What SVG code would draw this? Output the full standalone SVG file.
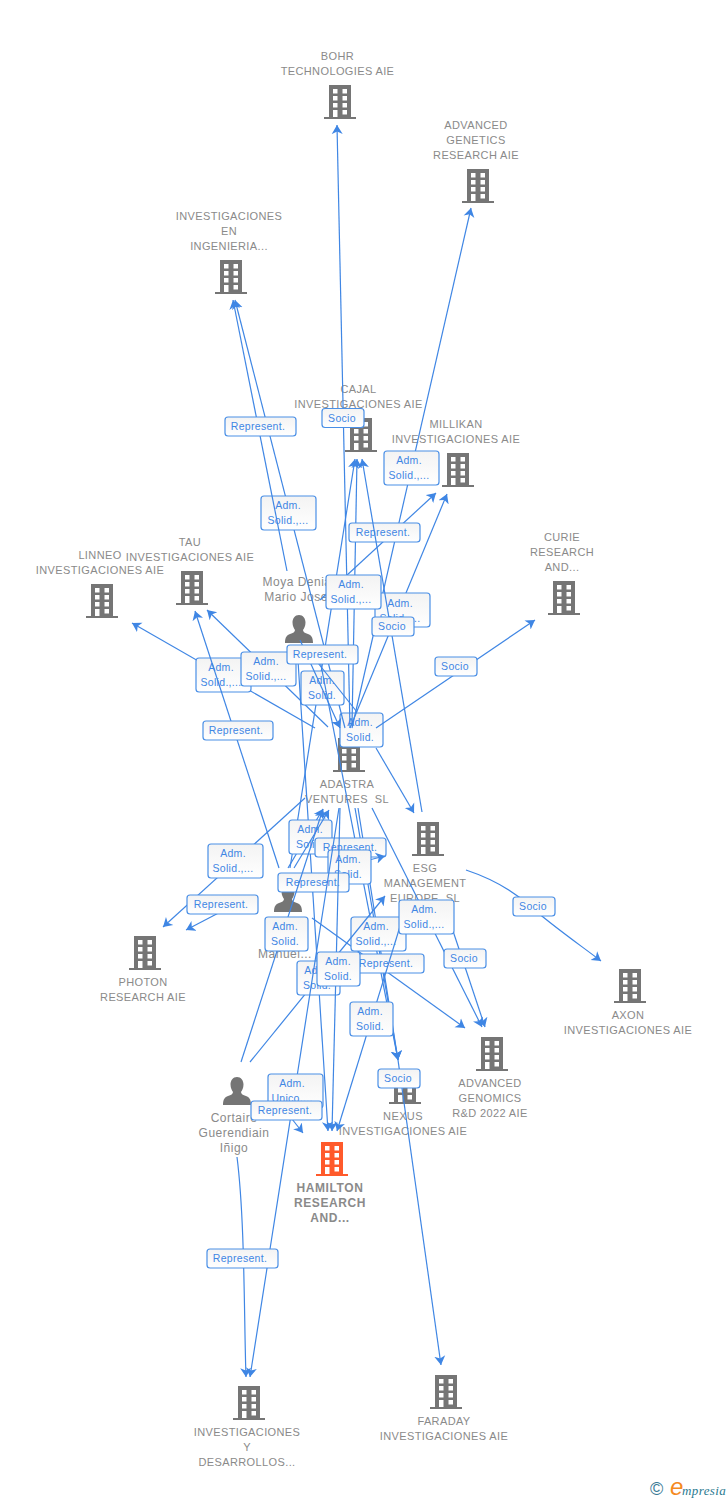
<svg xmlns="http://www.w3.org/2000/svg" xmlns:xlink="http://www.w3.org/1999/xlink" width="728" height="1500" viewBox="0 0 728 1500">
<style>
text{font-family:"Liberation Sans",Arial,sans-serif}
.n{font-size:11px;fill:#8a8a8a;text-anchor:middle;letter-spacing:.38px}
.nb{font-weight:bold;font-size:12px;letter-spacing:.6px}
.p{font-size:12px;fill:#8a8a8a;text-anchor:middle;letter-spacing:.5px}
.b{fill:#757575}
.h{fill:#ff5a2b}
line,path.e{stroke:#3f86e4;stroke-width:1.2;fill:none}
.a{marker-end:url(#ar)}
.r{fill:url(#g);stroke:#4a8fe6;stroke-width:1.2}
.t{font-size:10.5px;fill:#3f86e4;text-anchor:middle;letter-spacing:.3px}
</style>
<defs>
<linearGradient id="g" x1="0" y1="0" x2="0" y2="1"><stop offset="0" stop-color="#f3f3f3"/><stop offset="1" stop-color="#fff"/></linearGradient>
<marker id="ar" markerUnits="userSpaceOnUse" markerWidth="12" markerHeight="13" refX="9" refY="6" orient="auto"><path d="M0 0.500L9 6L0 11.500L2.500 6Z" fill="#3f86e4"/></marker>
<path id="bld" fill-rule="evenodd" d="M5 0H27V32H32V34H0V32H5ZM9 4V8.500H13.500V4ZM18.500 4V8.500H23V4ZM9 11V15.500H13.500V11ZM18.500 11V15.500H23V11ZM9 18V22.500H13.500V18ZM18.500 18V22.500H23V18ZM9 25V32H13.500V25ZM18.500 25V29.500H23V25Z"/>
<path id="psn" d="M14 0C18 0 20.500 3.500 20.500 7.500C20.500 11 19 13.500 18 15C18 17 20 18 23 19C26 20 28 22 28 28H0C0 22 2 20 5 19C8 18 10 17 10 15C9 13.500 7.500 11 7.500 7.500C7.500 3.500 10 0 14 0Z"/>
</defs>
<g id="nodes">
<g id="n-bohr"><use xlink:href="#bld" href="#bld" class="b" x="324" y="85"/><text class="n" x="337.500" y="60">BOHR</text><text class="n" x="337.500" y="75">TECHNOLOGIES AIE</text></g>
<g id="n-genetics"><use href="#bld" class="b" x="462" y="169"/><text class="n" x="476" y="129">ADVANCED</text><text class="n" x="476" y="144">GENETICS</text><text class="n" x="476" y="159">RESEARCH AIE</text></g>
<g id="n-ingenieria"><use href="#bld" class="b" x="215" y="260"/><text class="n" x="229" y="220">INVESTIGACIONES</text><text class="n" x="229" y="235">EN</text><text class="n" x="229" y="250">INGENIERIA...</text></g>
<g id="n-cajal"><use href="#bld" class="b" x="345" y="418"/><text class="n" x="358.500" y="393">CAJAL</text><text class="n" x="358.500" y="408">INVESTIGACIONES AIE</text></g>
<g id="n-millikan"><use href="#bld" class="b" x="442" y="453"/><text class="n" x="456" y="428">MILLIKAN</text><text class="n" x="456" y="443">INVESTIGACIONES AIE</text></g>
<g id="n-curie"><use href="#bld" class="b" x="548" y="581"/><text class="n" x="562" y="541">CURIE</text><text class="n" x="562" y="556">RESEARCH</text><text class="n" x="562" y="571">AND...</text></g>
<g id="n-tau"><use href="#bld" class="b" x="176" y="571"/><text class="n" x="190" y="546">TAU</text><text class="n" x="190" y="561">INVESTIGACIONES AIE</text></g>
<g id="n-linneo"><use href="#bld" class="b" x="86" y="584"/><text class="n" x="100" y="559">LINNEO</text><text class="n" x="100" y="574">INVESTIGACIONES AIE</text></g>
<g id="n-moya"><use href="#psn" class="b" x="285" y="615"/><text class="p" x="297" y="586">Moya Denia</text><text class="p" x="296" y="601">Mario Jose</text></g>
<g id="n-adastra"><use href="#bld" class="b" x="333" y="738"/><text class="n" x="347" y="788">ADASTRA</text><text class="n" x="347" y="803" xml:space="preserve">VENTURES  SL</text></g>
<g id="n-esg"><use href="#bld" class="b" x="412" y="822"/><text class="n" x="425" y="872">ESG</text><text class="n" x="425" y="887">MANAGEMENT</text><text class="n" x="425" y="902" xml:space="preserve">EUROPE  SL</text></g>
<g id="n-manuel"><use href="#psn" class="b" x="274" y="884"/><text class="p" x="285" y="958">Manuel...</text></g>
<g id="n-photon"><use href="#bld" class="b" x="129" y="936"/><text class="n" x="143" y="986">PHOTON</text><text class="n" x="143" y="1001">RESEARCH AIE</text></g>
<g id="n-axon"><use href="#bld" class="b" x="614" y="969"/><text class="n" x="628" y="1019">AXON</text><text class="n" x="628" y="1034">INVESTIGACIONES AIE</text></g>
<g id="n-genomics"><use href="#bld" class="b" x="476" y="1037"/><text class="n" x="490" y="1087">ADVANCED</text><text class="n" x="490" y="1102">GENOMICS</text><text class="n" x="490" y="1117">R&amp;D 2022 AIE</text></g>
<g id="n-nexus"><use href="#bld" class="b" x="389" y="1070"/><text class="n" x="403" y="1120">NEXUS</text><text class="n" x="403" y="1135">INVESTIGACIONES AIE</text></g>
<g id="n-cortaire"><use href="#psn" class="b" x="223" y="1077"/><text class="p" x="234" y="1122">Cortaire</text><text class="p" x="234" y="1137">Guerendiain</text><text class="p" x="234" y="1152">Iñigo</text></g>
<g id="n-hamilton"><use href="#bld" class="h" x="316" y="1142"/><text class="n nb" x="330" y="1192">HAMILTON</text><text class="n nb" x="330" y="1207">RESEARCH</text><text class="n nb" x="330" y="1222">AND...</text></g>
<g id="n-invy"><use href="#bld" class="b" x="233" y="1386"/><text class="n" x="247" y="1436">INVESTIGACIONES</text><text class="n" x="247" y="1451">Y</text><text class="n" x="247" y="1466">DESARROLLOS...</text></g>
<g id="n-faraday"><use href="#bld" class="b" x="430" y="1375"/><text class="n" x="444" y="1425">FARADAY</text><text class="n" x="444" y="1440">INVESTIGACIONES AIE</text></g>
</g>
<g id="connectors">
<rect class="r" x="340" y="713" width="43" height="34" rx="3"/><text class="t" x="360" y="726">Adm.</text><text class="t" x="360" y="741">Solid.</text>
<line class="a" x1="345" y1="728" x2="235" y2="300"/><rect class="r" x="261" y="496" width="55" height="34" rx="3"/><text class="t" x="288" y="509">Adm.</text><text class="t" x="288" y="524">Solid.,...</text>
<line class="a" x1="287" y1="571" x2="233" y2="300"/><rect class="r" x="225" y="417" width="71" height="19" rx="3"/><text class="t" x="258" y="430">Represent.</text>
<line class="a" x1="350" y1="728" x2="337" y2="125"/><rect class="r" x="322" y="408.500" width="42" height="19" rx="3"/><text class="t" x="342" y="422">Socio</text>
<line class="a" x1="352" y1="728" x2="471" y2="208"/><rect class="r" x="384" y="451" width="55" height="34" rx="3"/><text class="t" x="409" y="464">Adm.</text><text class="t" x="409" y="479">Solid.,...</text>
<line class="a" x1="352" y1="726" x2="357" y2="459"/>
<line class="a" x1="320" y1="600" x2="436" y2="493"/><rect class="r" x="349" y="523" width="71" height="19" rx="3"/><text class="t" x="383" y="536">Represent.</text>
<line class="a" x1="350" y1="728" x2="447" y2="494"/><rect class="r" x="375" y="593" width="55" height="34" rx="3"/><text class="t" x="400" y="607">Adm.</text><text class="t" x="400" y="622">Solid.,...</text>
<line class="a" x1="290" y1="868" x2="355" y2="459"/><rect class="r" x="326" y="575" width="55" height="34" rx="3"/><text class="t" x="351" y="588">Adm.</text><text class="t" x="351" y="603">Solid.,...</text>
<line class="a" x1="422" y1="812" x2="362" y2="459"/><rect class="r" x="372" y="617" width="42" height="19" rx="3"/><text class="t" x="392" y="630">Socio</text>
<line class="a" x1="315" y1="728" x2="132" y2="623"/><rect class="r" x="196" y="658" width="55" height="34" rx="3"/><text class="t" x="221" y="671">Adm.</text><text class="t" x="221" y="686">Solid.,...</text>
<line class="a" x1="279" y1="868" x2="195" y2="611"/><rect class="r" x="203" y="721" width="70" height="19" rx="3"/><text class="t" x="236" y="734">Represent.</text>
<line class="a" x1="328" y1="727" x2="207" y2="610"/><rect class="r" x="241" y="652" width="55" height="34" rx="3"/><text class="t" x="266" y="665">Adm.</text><text class="t" x="266" y="680">Solid.,...</text>
<rect class="r" x="301" y="671" width="43" height="34" rx="3"/><text class="t" x="322" y="684">Adm.</text><text class="t" x="322" y="699">Solid.</text>
<line x1="320" y1="660" x2="398" y2="1060" class="a"/>
<line x1="318" y1="663" x2="357" y2="712"/>
<line class="a" x1="300" y1="640" x2="340" y2="728"/>
<line class="a" x1="297" y1="645" x2="328" y2="1131"/><rect class="r" x="287" y="645" width="71" height="19" rx="3"/><text class="t" x="320" y="658">Represent.</text>
<line class="a" x1="376" y1="728" x2="535" y2="620"/><rect class="r" x="435" y="657" width="42" height="19" rx="3"/><text class="t" x="455" y="670">Socio</text>
<line class="a" x1="376" y1="748" x2="414" y2="813"/>
<line class="a" x1="305" y1="798" x2="163" y2="927"/><rect class="r" x="208" y="844" width="55" height="34" rx="3"/><text class="t" x="233" y="857">Adm.</text><text class="t" x="233" y="872">Solid.,...</text>
<line class="a" x1="288" y1="868" x2="323" y2="809"/><rect class="r" x="289" y="820" width="43" height="34" rx="3"/><text class="t" x="310" y="833">Adm.</text><text class="t" x="310" y="848">Solid.</text>
<line class="a" x1="294" y1="868" x2="329" y2="810"/>
<line class="a" x1="355" y1="808" x2="398" y2="1060"/><line class="a" x1="358" y1="808" x2="398" y2="1060"/>
<rect class="r" x="315" y="838" width="71" height="19" rx="3"/><text class="t" x="350" y="851">Represent.</text>
<line class="a" x1="345" y1="866" x2="385" y2="856"/><rect class="r" x="328" y="850" width="43" height="34" rx="3"/><text class="t" x="348" y="863">Adm.</text><text class="t" x="348" y="878">Solid.</text>
<line class="a" x1="230" y1="907" x2="186" y2="930"/><rect class="r" x="187" y="895" width="71" height="19" rx="3"/><text class="t" x="221" y="908">Represent.</text>
<line x1="372" y1="808" x2="482" y2="1027" class="a"/>
<rect class="r" x="278" y="873" width="71" height="19" rx="3"/><text class="t" x="313" y="886">Represent.</text>
<line class="a" x1="241" y1="1062" x2="323" y2="809"/><rect class="r" x="265" y="917" width="43" height="34" rx="3"/><text class="t" x="285" y="930">Adm.</text><text class="t" x="285" y="945">Solid.</text>
<path class="e a" d="M466 870C490 878 510 888 530 906S580 945 601 961"/><rect class="r" x="513" y="897" width="42" height="19" rx="3"/><text class="t" x="533" y="910">Socio</text>
<line class="a" x1="312" y1="918" x2="465" y2="1028"/><rect class="r" x="351" y="917" width="55" height="34" rx="3"/><text class="t" x="376" y="930">Adm.</text><text class="t" x="376" y="945">Solid.,...</text>
<rect class="r" x="349" y="954" width="75" height="19" rx="3"/><text class="t" x="386" y="967">Represent.</text>
<line class="a" x1="445" y1="907" x2="485" y2="1027"/><rect class="r" x="444" y="949" width="42" height="19" rx="3"/><text class="t" x="464" y="962">Socio</text>
<line class="a" x1="406" y1="907" x2="337" y2="1131"/><rect class="r" x="399" y="900" width="55" height="34" rx="3"/><text class="t" x="424" y="913">Adm.</text><text class="t" x="424" y="928">Solid.,...</text>
<line class="a" x1="250" y1="1062" x2="385" y2="896"/><rect class="r" x="297" y="961" width="43" height="34" rx="3"/><text class="t" x="317" y="974">Adm.</text><text class="t" x="317" y="989">Solid.</text>
<line class="a" x1="340" y1="808" x2="332" y2="1131"/><rect class="r" x="317" y="952" width="43" height="34" rx="3"/><text class="t" x="338" y="965">Adm.</text><text class="t" x="338" y="980">Solid.</text>
<rect class="r" x="350" y="1002" width="43" height="34" rx="3"/><text class="t" x="370" y="1015">Adm.</text><text class="t" x="370" y="1030">Solid.</text>
<line class="a" x1="339" y1="808" x2="250" y2="1377"/><rect class="r" x="268" y="1074" width="55" height="34" rx="3"/><text class="t" x="292" y="1087">Adm.</text><text class="t" x="292" y="1102">Unico,...</text>
<line class="a" x1="292" y1="1119" x2="303" y2="1133"/><rect class="r" x="251" y="1101" width="71" height="19" rx="3"/><text class="t" x="285" y="1114">Represent.</text>
<line class="a" x1="398" y1="1060" x2="441" y2="1365"/><rect class="r" x="378" y="1069" width="42" height="19" rx="3"/><text class="t" x="398" y="1082">Socio</text>
<path class="e a" d="M237 1157C245 1220 244 1320 246 1377"/><rect class="r" x="207" y="1249" width="71" height="19" rx="3"/><text class="t" x="240" y="1262">Represent.</text>
</g>
<g id="logo"><text x="650" y="1495" font-size="18" fill="#3a7a95">©</text><text x="670" y="1495" font-size="24" font-style="italic" fill="#f58a1f">e</text><text x="682" y="1495" font-size="13" font-style="italic" fill="#2a7a8f" letter-spacing=".4" style="font-family:'Liberation Serif',serif">mpresia</text></g>
</svg>
